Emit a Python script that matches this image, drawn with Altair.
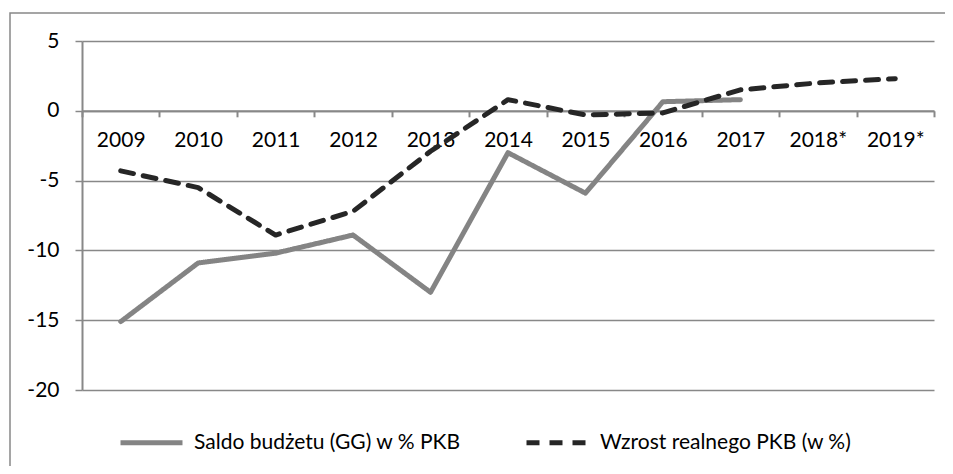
import altair as alt
import pandas as pd

years = ["2009", "2010", "2011", "2012", "2013", "2014", "2015", "2016", "2017", "2018*", "2019*"]
saldo = [-15.1, -10.9, -10.2, -8.9, -13.0, -3.0, -5.9, 0.65, 0.8, None, None]
pkb = [-4.3, -5.5, -8.9, -7.2, -2.9, 0.8, -0.3, -0.15, 1.5, 2.0, 2.3]
series_names = ["Saldo budżetu (GG) w % PKB", "Wzrost realnego PKB (w %)"]
y_ticks = [-20, -15, -10, -5, 0, 5]

rows = []
for i, y in enumerate(years):
    rows.append({"year": y, "series": series_names[0], "value": saldo[i]})
    rows.append({"year": y, "series": series_names[1], "value": pkb[i]})
df = pd.DataFrame(rows)

FONT = "Lato"
FS = 21
W, H = 852, 349
zero_px = H * 5 / 25

lines = alt.Chart(df).mark_line(strokeWidth=5, strokeCap="round", strokeJoin="round", clip=False).encode(
    x=alt.X("year:N", sort=years, bandPosition=0.5,
            scale=alt.Scale(type="band", paddingInner=0, paddingOuter=0),
            axis=alt.Axis(title=None, orient="bottom", offset=-(H - zero_px), tickBand="extent",
                          labelAngle=0, labelFontSize=FS, labelFont=FONT, labelColor="#000",
                          labelPadding=13, tickSize=6, tickColor="#888", tickWidth=2,
                          domainColor="#888", domainWidth=2, grid=False)),
    y=alt.Y("value:Q", scale=alt.Scale(domain=[-20, 5], nice=False, zero=False),
            axis=alt.Axis(title=None, values=y_ticks, grid=True, gridColor="#888", gridWidth=1.5,
                          labelExpr="toString(datum.value)",
                          labelFontSize=FS, labelFont=FONT, labelColor="#000", labelPadding=16,
                          tickSize=7, tickColor="#888", tickWidth=1.5,
                          domainColor="#888", domainWidth=2)),
    color=alt.Color("series:N", sort=series_names,
                    scale=alt.Scale(domain=series_names, range=["#848484", "#262626"]),
                    legend=alt.Legend(title=None, orient="none", legendX=36, legendY=368,
                                      direction="horizontal", symbolType="stroke",
                                      symbolSize=3844, symbolStrokeWidth=5,
                                      labelFontSize=FS, labelFont=FONT, labelColor="#000",
                                      labelOffset=9, columnPadding=55, labelLimit=400)),
    strokeDash=alt.StrokeDash("series:N", sort=series_names,
                              scale=alt.Scale(domain=series_names, range=[[1, 0], [13, 10]]),
                              legend=None),
)

border = alt.Chart(pd.DataFrame({"a": [0]})).mark_rect(
    fill=None, stroke="#888", strokeWidth=1.5, clip=False
).encode(
    x=alt.value(-72), x2=alt.value(W + 40), y=alt.value(-28), y2=alt.value(H + 120)
)

chart = alt.layer(border, lines).properties(
    width=W, height=H,
    autosize=alt.AutoSizeParams(type="none"),
    padding={"left": 74, "top": 33, "right": 11, "bottom": 76},
    background="white",
).configure_view(stroke=None)

chart.save("out.html", embed_options={"renderer": "svg", "actions": False})
